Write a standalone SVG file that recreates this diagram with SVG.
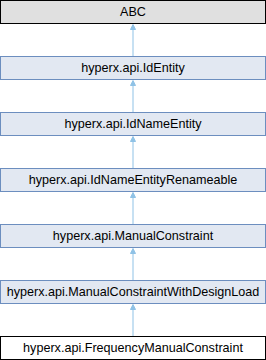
<svg xmlns="http://www.w3.org/2000/svg" width="266" height="360" viewBox="0 0 266 360">
<style>
.n rect{fill:#e2e8f2;stroke:#6c8ebf;stroke-width:1}
#n0 rect{fill:#e0e0e0;stroke:#000}
#n6 rect{fill:#fff;stroke:#000}
text{font-family:"Liberation Sans",Arial,sans-serif;font-size:12.6px;fill:#000;text-anchor:middle}
.e line{stroke:#8fc2e6;stroke-width:1}
.e polygon{fill:#8fc2e6;stroke:#8fc2e6;stroke-width:1}
</style>
<g class="e" id="edges">
<line x1="133" y1="29" x2="133" y2="56"/><polygon points="133,24.5 130.5,29.5 135.5,29.5"/>
<line x1="133" y1="85" x2="133" y2="112"/><polygon points="133,80.5 130.5,85.5 135.5,85.5"/>
<line x1="133" y1="141" x2="133" y2="168"/><polygon points="133,136.5 130.5,141.5 135.5,141.5"/>
<line x1="133" y1="197" x2="133" y2="224"/><polygon points="133,192.5 130.5,197.5 135.5,197.5"/>
<line x1="133" y1="253" x2="133" y2="280"/><polygon points="133,248.5 130.5,253.5 135.5,253.5"/>
<line x1="133" y1="309" x2="133" y2="336"/><polygon points="133,304.5 130.5,309.5 135.5,309.5"/>
</g>
<g class="n" id="n0"><rect x="0.5" y="0.5" width="265" height="23"/><text x="133" y="16">ABC</text></g>
<g class="n" id="n1"><rect x="0.5" y="56.5" width="265" height="23"/><text x="133" y="72">hyperx.api.IdEntity</text></g>
<g class="n" id="n2"><rect x="0.5" y="112.5" width="265" height="23"/><text x="133" y="128">hyperx.api.IdNameEntity</text></g>
<g class="n" id="n3"><rect x="0.5" y="168.5" width="265" height="23"/><text x="133" y="184">hyperx.api.IdNameEntityRenameable</text></g>
<g class="n" id="n4"><rect x="0.5" y="224.5" width="265" height="23"/><text x="133" y="240">hyperx.api.ManualConstraint</text></g>
<g class="n" id="n5"><rect x="0.5" y="280.5" width="265" height="23"/><text x="133" y="296">hyperx.api.ManualConstraintWithDesignLoad</text></g>
<g class="n" id="n6"><rect x="0.5" y="336.5" width="265" height="23"/><text x="133" y="352">hyperx.api.FrequencyManualConstraint</text></g>
</svg>
